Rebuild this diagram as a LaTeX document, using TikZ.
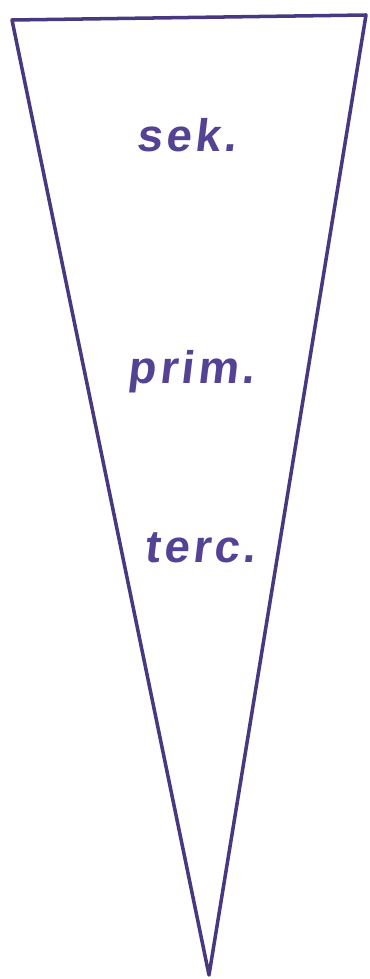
\documentclass[tikz,border=0pt]{standalone}
\usepackage{fontspec}
\setmainfont{Liberation Sans}
\newfontfamily\handfont[FakeSlant=0.12,LetterSpace=8]{Liberation Sans}
\usetikzlibrary{positioning}
\definecolor{ink}{RGB}{84,66,148}
\definecolor{pen}{RGB}{72,56,128}

\begin{document}
\begin{tikzpicture}[
	%scale=0.75,
	edge/.style={ pen, line width=2pt, line join=round },
	word/.style={ ink, anchor=base, inner sep=0pt, font=\handfont\bfseries\fontsize{26}{30}\selectfont }
]
\useasboundingbox (0,0) rectangle (7.4,-19.58);

% corners
\coordinate (tl) at (0.24,-0.40);
\coordinate (tr) at (7.32,-0.30);
\coordinate (tip) at (4.18,-19.50);

% labels
\node at (3.72,-3.04) (sek) [word] {sek.};
\node at (3.82,-7.66) (prim) [word] {prim.};
\node at (4.00,-11.24) (terc) [word] {terc.};

%
% border
\draw[edge] (tl) to (tr) to (tip) to cycle;

\end{tikzpicture}
\end{document}
